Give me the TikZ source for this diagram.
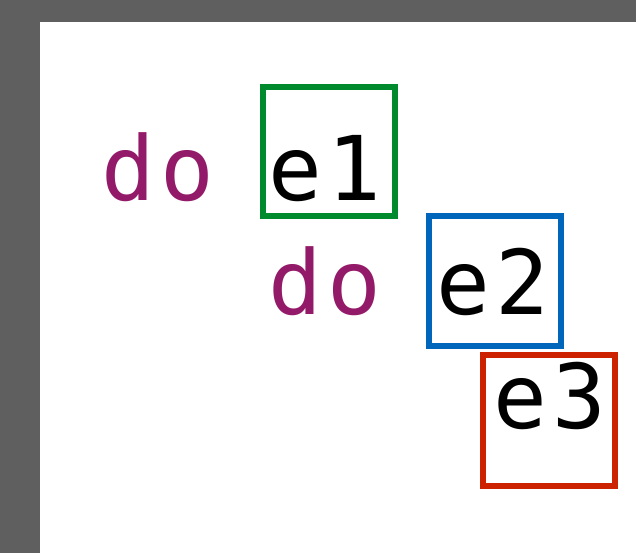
\documentclass[tikz,border=0pt]{standalone}
\usepackage{fontspec}
\setmonofont[LetterSpace=6]{DejaVu Sans Mono}
\definecolor{bggray}{HTML}{5F5F5F}
\definecolor{kwpurple}{HTML}{931A68}
\definecolor{bgreen}{HTML}{008A2E}
\definecolor{bblue}{HTML}{0066BB}
\definecolor{bred}{HTML}{CC2200}
\begin{document}
\begin{tikzpicture}[x=0.75pt,y=-0.75pt,
  txt/.style={inner sep=0pt,anchor=base west,font=\ttfamily\fontsize{67}{67}\selectfont},
  kw/.style={txt,text=kwpurple},
  ebox/.style={draw=#1,line width=4pt}]
\useasboundingbox (0,0) rectangle (636,553);
\fill[bggray] (0,0) rectangle (636,553);
\fill[white] (40,22) rectangle (636,553);
\node[kw] (do1) at (101,200) {do};
\node[txt] (e1) at (268,200) {e1};
\node[kw] (do2) at (268,314) {do};
\node[txt] (e2) at (436,314) {e2};
\node[txt] (e3) at (493,428) {e3};
\draw[ebox=bgreen] (263,87) rectangle (395,216);
\draw[ebox=bblue] (429,216) rectangle (561,346);
\draw[ebox=bred] (483,355) rectangle (615,486);
\end{tikzpicture}
\end{document}
